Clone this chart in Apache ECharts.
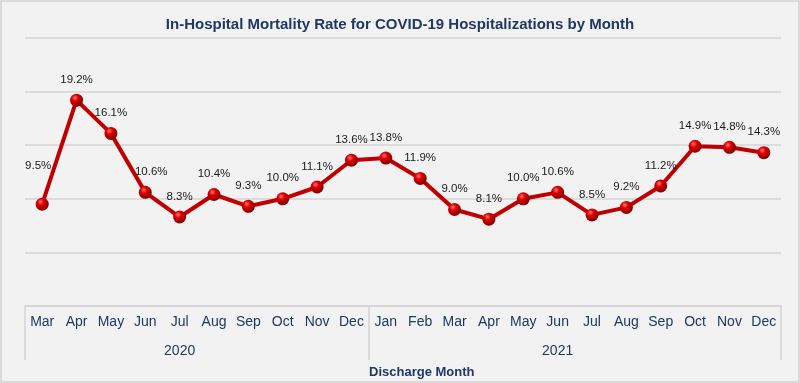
<!DOCTYPE html>
<html>
<head>
<meta charset="utf-8">
<script src="https://cdn.jsdelivr.net/npm/echarts@6/dist/echarts.min.js"></script>
<style>
  html, body { margin: 0; padding: 0; background: #f2f2f2; }
  #chart { width: 800px; height: 383px; }
</style>
</head>
<body>
<div id="chart"></div>
<script>
const months = ['Mar','Apr','May','Jun','Jul','Aug','Sep','Oct','Nov','Dec',
                'Jan','Feb','Mar','Apr','May','Jun','Jul','Aug','Sep','Oct','Nov','Dec'];
const years = ['2020','2020','2020','2020','2020','2020','2020','2020','2020','2020',
               '2021','2021','2021','2021','2021','2021','2021','2021','2021','2021','2021','2021'];
const mortalityRate = [9.5, 19.2, 16.1, 10.6, 8.3, 10.4, 9.3, 10.0, 11.1, 13.6,
                       13.8, 11.9, 9.0, 8.1, 10.0, 10.6, 8.5, 9.2, 11.2, 14.9, 14.8, 14.3];
const yTicks = { min: 0, max: 25, interval: 5 };

const navy = '#1f3864';
const fontFam = "'Liberation Sans', Arial, sans-serif";

const yearLabelIdx = {};
years.forEach((y, i) => { (yearLabelIdx[y] = yearLabelIdx[y] || []).push(i); });
const yearStarts = years.map((y, i) => i === 0 || years[i - 1] !== y);

const chart = echarts.init(document.getElementById('chart'), null, { renderer: 'canvas' });

const sphere = {
  type: 'radial', x: 0.38, y: 0.32, r: 0.7,
  colorStops: [
    { offset: 0, color: '#ff7a7a' },
    { offset: 0.35, color: '#e00000' },
    { offset: 1, color: '#7a0000' }
  ]
};

const seriesData = mortalityRate.map((v, i) => {
  const d = { value: v };
  if (i === 0) d.label = { offset: [-4, -18] };
  if (i === 3) d.label = { offset: [6, 0] };
  return d;
});

chart.setOption({
  backgroundColor: '#f2f2f2',
  animation: false,
  title: [
    {
      text: 'In-Hospital Mortality Rate for COVID-19 Hospitalizations by Month',
      left: 'center', top: 12,
      textStyle: { color: navy, fontFamily: fontFam, fontWeight: 'bold', fontSize: 15 }
    },
    {
      text: 'Discharge Month',
      left: 364, top: 361,
      textStyle: { color: navy, fontFamily: fontFam, fontWeight: 'bold', fontSize: 13 }
    }
  ],
  graphic: [
    {
      type: 'rect', silent: true,
      shape: { x: 1, y: 1, width: 798, height: 381 },
      style: { fill: 'none', stroke: '#d4d4d4', lineWidth: 1.5 }
    }
  ],
  grid: { left: 25, right: 19, top: 38, bottom: 77, containLabel: false },
  xAxis: [
    {
      type: 'category', data: months, boundaryGap: true, position: 'bottom',
      axisLine: { show: true, lineStyle: { color: '#d4d4d4', width: 1.5 } },
      axisTick: { show: false },
      axisLabel: { color: navy, fontFamily: fontFam, fontSize: 14, margin: 9, interval: 0 }
    },
    {
      type: 'category', data: years, boundaryGap: true, position: 'bottom', offset: 0,
      axisLine: { show: false },
      axisTick: {
        show: true, length: 54,
        interval: function (index) { return yearStarts[index]; },
        lineStyle: { color: '#d4d4d4', width: 1.5 }
      },
      axisLabel: {
        color: navy, fontFamily: fontFam, fontSize: 14, margin: 38,
        interval: function (index) {
          const g = yearLabelIdx[years[index]];
          return index === g[Math.floor((g.length - 1) / 2)];
        }
      }
    }
  ],
  yAxis: {
    type: 'value', min: yTicks.min, max: yTicks.max, interval: yTicks.interval,
    axisLabel: { show: false }, axisLine: { show: false }, axisTick: { show: false },
    splitLine: { lineStyle: { color: '#d4d4d4', width: 1.5 } }
  },
  series: [
    {
      type: 'line', xAxisIndex: 0, data: seriesData,
      symbol: 'circle', symbolSize: 13,
      lineStyle: { color: '#c00000', width: 4 },
      itemStyle: { color: sphere, borderWidth: 0 },
      label: {
        show: true, position: 'top', distance: 8,
        formatter: p => p.value.toFixed(1) + '%',
        color: '#1a1a1a', fontFamily: fontFam, fontSize: 11.5
      },
      z: 3
    }
  ]
});
</script>
</body>
</html>
